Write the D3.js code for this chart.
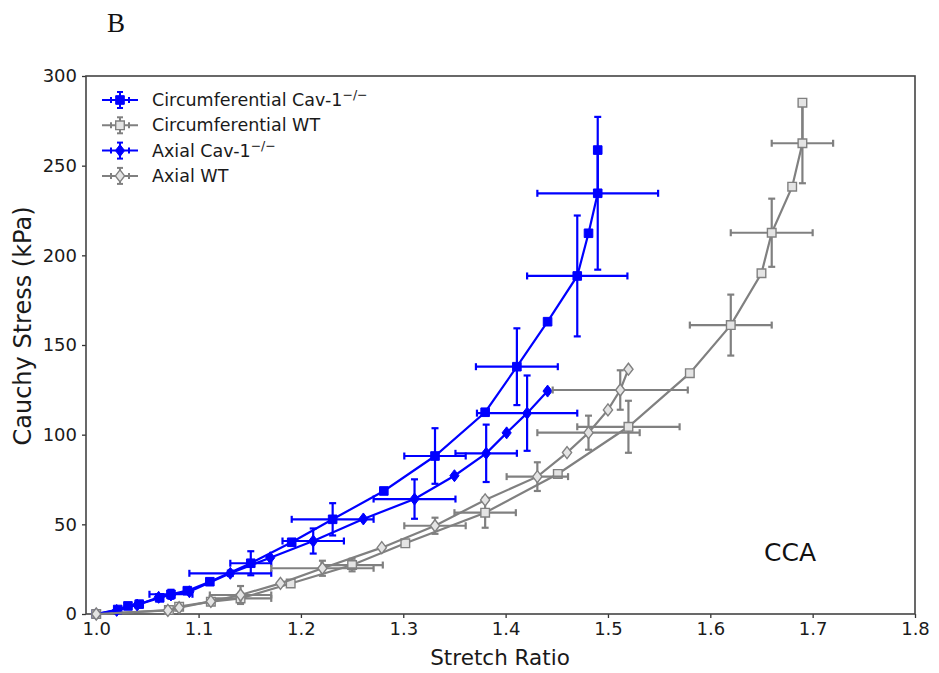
<!DOCTYPE html>
<html>
<head>
<meta charset="utf-8">
<script src="https://cdn.jsdelivr.net/npm/d3@7"></script>
<style>
  body { margin: 0; background: #fff; }
  svg { display: block; font-family: "DejaVu Sans", sans-serif; }
</style>
</head>
<body>
<svg id="chart" width="939" height="673"></svg>
<script>
// ---- data (stretch ratio, Cauchy stress kPa) ----
// null in the err arrays = no error bar at that point
const circKoX   = [1.000, 1.021, 1.031, 1.042, 1.062, 1.073, 1.089, 1.111, 1.151, 1.191, 1.231, 1.281, 1.331, 1.380, 1.411, 1.441, 1.470, 1.481, 1.490, 1.490];
const circKoY   = [0, 2.5, 4.5, 5.5, 9, 11, 13, 18, 28.3, 40, 52.8, 68.6, 88.1, 112.5, 137.9, 163, 188.5, 212.3, 234.6, 258.7];
const circKoXe  = [null, null, null, null, null, 0.021, null, null, 0.02, null, 0.04, null, 0.03, null, 0.04, null, 0.049, null, 0.059, null];
const circKoYe  = [null, null, null, null, null, 2.5, null, null, 6.7, null, 9.0, null, 15.5, null, 21.4, null, 33.7, null, 42.6, null];

const circWtX   = [1.000, 1.071, 1.081, 1.112, 1.141, 1.190, 1.250, 1.302, 1.380, 1.451, 1.520, 1.580, 1.620, 1.650, 1.660, 1.680, 1.690, 1.690];
const circWtY   = [0, 2.2, 4.1, 6.9, 8.7, 17, 27.3, 39.4, 56.5, 78.1, 104.4, 134.3, 161.1, 190, 212.6, 238.3, 262.5, 285.1];
const circWtXe  = [null, null, null, null, 0.03, null, 0.03, null, 0.03, null, 0.05, null, 0.04, null, 0.04, null, 0.03, null];
const circWtYe  = [null, null, null, null, 3.0, null, 3.5, null, 8.4, null, 14.5, null, 17.0, null, 19.0, null, 22.3, null];

const axKoX     = [1.000, 1.020, 1.040, 1.061, 1.073, 1.091, 1.131, 1.170, 1.212, 1.261, 1.311, 1.350, 1.381, 1.401, 1.421, 1.441];
const axKoY     = [0, 2, 5, 9.3, 10.6, 12.4, 22.7, 31.4, 40.7, 53, 64.1, 77.1, 89.6, 101, 112, 124.3];
const axKoXe    = [null, null, null, null, null, null, 0.04, null, 0.03, null, 0.04, null, 0.03, null, 0.049, null];
const axKoYe    = [null, null, null, null, null, null, 1.5, null, 7.0, null, 11.0, null, 16.0, null, 21.0, null];

const axWtX     = [1.000, 1.070, 1.081, 1.112, 1.141, 1.180, 1.221, 1.279, 1.331, 1.380, 1.431, 1.460, 1.481, 1.500, 1.512, 1.520];
const axWtY     = [0, 2, 3.5, 7, 10.6, 17.1, 25.5, 37, 49.2, 63.6, 76.6, 90, 101.1, 113.8, 124.9, 136.5];
const axWtXe    = [null, null, null, null, 0.03, null, 0.05, null, 0.03, null, 0.03, null, 0.05, null, 0.066, null];
const axWtYe    = [null, null, null, null, 5.0, null, 4.2, null, 4.5, null, 8.0, null, 9.5, null, 11.0, null];

const xTicks = [1.0, 1.1, 1.2, 1.3, 1.4, 1.5, 1.6, 1.7, 1.8];
const yTicks = [0, 50, 100, 150, 200, 250, 300];

const BLUE = '#0000ff', GRAY = '#808080';
// drawing order follows the legend order
const series = [
  { name: 'Circumferential Cav-1', sup: true, x: circKoX, y: circKoY, xe: circKoXe, ye: circKoYe, color: BLUE, marker: 'square', filled: true },
  { name: 'Circumferential WT', sup: false, x: circWtX, y: circWtY, xe: circWtXe, ye: circWtYe, color: GRAY, marker: 'square', filled: false },
  { name: 'Axial Cav-1', sup: true, x: axKoX, y: axKoY, xe: axKoXe, ye: axKoYe, color: BLUE, marker: 'diamond', filled: true },
  { name: 'Axial WT', sup: false, x: axWtX, y: axWtY, xe: axWtXe, ye: axWtYe, color: GRAY, marker: 'diamond', filled: false }
];

const svg = d3.select('#chart');
const m = { l: 86, r: 915, t: 76, b: 614 };
const x = d3.scaleLinear().domain([0.99, 1.8]).range([m.l, m.r]);
const y = d3.scaleLinear().domain([0, 300]).range([m.b, m.t]);

// panel letter (serif, as in the figure)
svg.append('text').attr('x', 107).attr('y', 32)
  .style('font-family', '"Liberation Serif", "DejaVu Serif", serif')
  .attr('font-size', 27).attr('fill', '#111').text('B');

// axes
const gx = svg.append('g').attr('transform', `translate(0,${m.b})`)
  .call(d3.axisBottom(x).tickValues(xTicks).tickFormat(d3.format('.1f')).tickSize(4).tickPadding(4));
const gy = svg.append('g').attr('transform', `translate(${m.l},0)`)
  .call(d3.axisLeft(y).tickValues(yTicks).tickSize(4).tickPadding(5));
[gx, gy].forEach(g => {
  g.attr('font-family', '"DejaVu Sans", sans-serif').attr('font-size', 18);
  g.select('.domain').remove();
  g.selectAll('line').attr('stroke', '#333').attr('stroke-width', 1.3);
  g.selectAll('text').attr('fill', '#1a1a1a');
});

svg.append('rect').attr('x', m.l).attr('y', m.t).attr('width', m.r - m.l).attr('height', m.b - m.t)
  .attr('fill', 'none').attr('stroke', '#444').attr('stroke-width', 1.6);

svg.append('text').attr('x', 500).attr('y', 665).attr('text-anchor', 'middle')
  .attr('font-size', 21.5).attr('fill', '#1a1a1a').text('Stretch Ratio');
svg.append('text').attr('transform', 'translate(31,326) rotate(-90)').attr('text-anchor', 'middle')
  .attr('font-size', 24).attr('fill', '#1a1a1a').text('Cauchy Stress (kPa)');

svg.append('text').attr('x', 790).attr('y', 561).attr('text-anchor', 'middle')
  .attr('font-size', 25).attr('fill', '#111').text('CCA');

function markerPath(type) {
  return type === 'square' ? 'M-4.3,-4.3H4.3V4.3H-4.3Z' : 'M0,-6L4.6,0L0,6L-4.6,0Z';
}

const plot = svg.append('g');
const line = d3.line().x(d => x(d[0])).y(d => y(d[1]));
const CAP = 3.5;

series.forEach(s => {
  const g = plot.append('g');
  const pts = s.x.map((v, i) => [v, s.y[i], s.xe[i], s.ye[i]]);
  // error bars
  pts.filter(p => p[2] != null).forEach(p => {
    const cx = x(p[0]), cy = y(p[1]);
    const x0 = x(p[0] - p[2]), x1 = x(p[0] + p[2]);
    const y0 = y(p[1] - p[3]), y1 = y(p[1] + p[3]);
    g.append('line').attr('x1', x0).attr('x2', x1).attr('y1', cy).attr('y2', cy);
    g.append('line').attr('x1', cx).attr('x2', cx).attr('y1', y0).attr('y2', y1);
    g.append('line').attr('x1', x0).attr('x2', x0).attr('y1', cy - CAP).attr('y2', cy + CAP);
    g.append('line').attr('x1', x1).attr('x2', x1).attr('y1', cy - CAP).attr('y2', cy + CAP);
    g.append('line').attr('x1', cx - CAP).attr('x2', cx + CAP).attr('y1', y0).attr('y2', y0);
    g.append('line').attr('x1', cx - CAP).attr('x2', cx + CAP).attr('y1', y1).attr('y2', y1);
  });
  g.selectAll('line').attr('stroke', s.color).attr('stroke-width', 2.2);
  g.append('path').datum(pts).attr('d', line).attr('fill', 'none')
    .attr('stroke', s.color).attr('stroke-width', 2.2);
  g.selectAll('path.mk').data(pts).join('path').attr('class', 'mk')
    .attr('transform', d => `translate(${x(d[0])},${y(d[1])})`)
    .attr('d', markerPath(s.marker))
    .attr('fill', s.filled ? s.color : '#e4e4e4')
    .attr('stroke', s.color).attr('stroke-width', s.filled ? 1 : 1.4);
});

// legend
const lg = svg.append('g').attr('transform', 'translate(100,100)');
series.forEach((s, i) => {
  const r = lg.append('g').attr('transform', `translate(0,${i * 25.3})`);
  r.append('line').attr('x1', 2).attr('x2', 38).attr('y1', 0).attr('y2', 0);
  r.append('line').attr('x1', 20).attr('x2', 20).attr('y1', -8).attr('y2', 8);
  [11, 29].forEach(c => r.append('line').attr('x1', c).attr('x2', c).attr('y1', -3).attr('y2', 3));
  [-8, 8].forEach(c => r.append('line').attr('x1', 17).attr('x2', 23).attr('y1', c).attr('y2', c));
  r.selectAll('line').attr('stroke', s.color).attr('stroke-width', 2);
  r.append('path').attr('transform', 'translate(20,0)').attr('d', markerPath(s.marker))
    .attr('fill', s.filled ? s.color : '#e4e4e4').attr('stroke', s.color).attr('stroke-width', s.filled ? 1 : 1.4);
  const t = r.append('text').attr('x', 52).attr('y', 6).attr('font-size', 17.5).attr('fill', '#1a1a1a').text(s.name);
  if (s.sup) t.append('tspan').attr('dy', -7).attr('font-size', 12.5).text('\u2212/\u2212');
});
</script>
</body>
</html>
